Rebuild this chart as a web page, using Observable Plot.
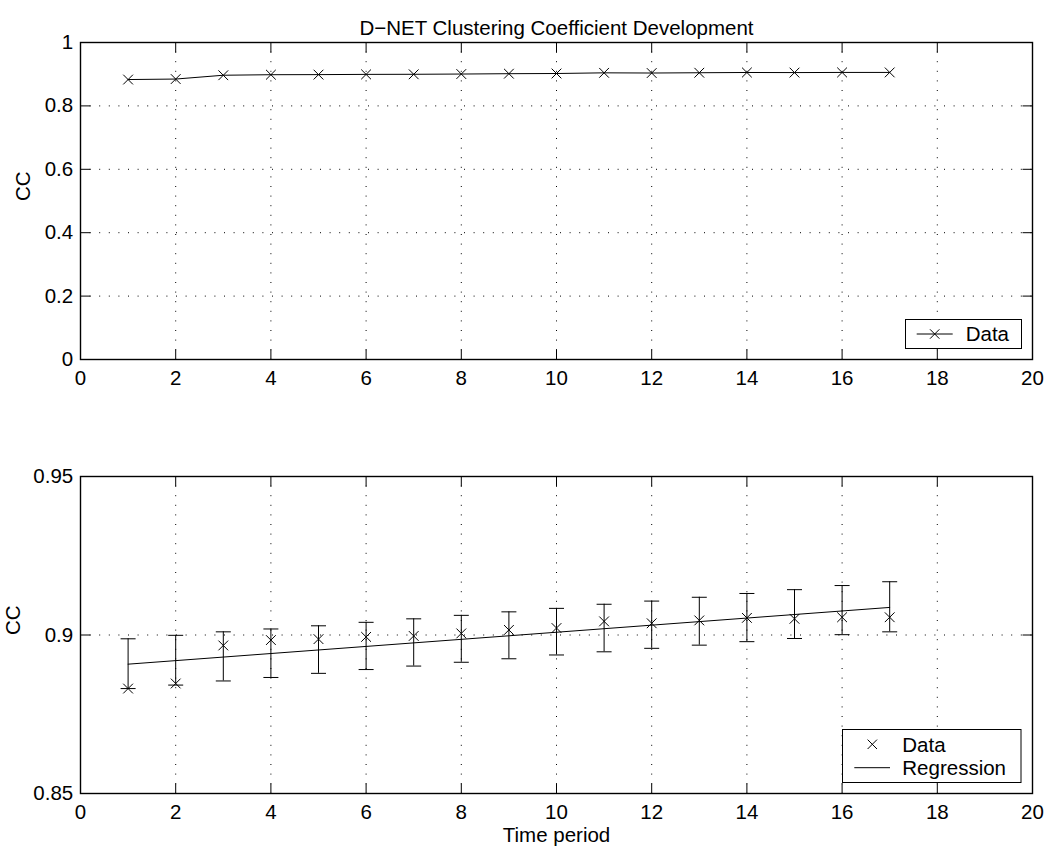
<!DOCTYPE html>
<html><head><meta charset="utf-8">
<script src="https://cdn.jsdelivr.net/npm/d3@7"></script>
<script src="https://cdn.jsdelivr.net/npm/@observablehq/plot@0.6"></script>
<style>
body{margin:0;background:#fff;}
#wrap{position:relative;width:1053px;height:855px;overflow:hidden;}
#wrap > svg{position:absolute;left:0;max-width:none;}
</style></head><body><div id="wrap"></div>
<script>
// ---- data ----
const chartTitle = "D\u2212NET Clustering Coefficient Development";
const periods = [1,2,3,4,5,6,7,8,9,10,11,12,13,14,15,16,17];
const ccValues = [0.8831,0.8847,0.8967,0.8984,0.8987,0.8994,0.8997,0.9005,0.9016,0.9022,0.9043,0.9037,0.9046,0.9054,0.9051,0.9056,0.9056];
const errLow  = [0.8831,0.8842,0.8855,0.8866,0.8879,0.8891,0.8902,0.8914,0.8925,0.8937,0.8947,0.8958,0.8968,0.8979,0.8989,0.9001,0.9010];
const errHigh = [0.8988,0.8999,0.9010,0.9019,0.9029,0.9040,0.9051,0.9062,0.9073,0.9084,0.9097,0.9107,0.9119,0.9131,0.9143,0.9156,0.9168];
const regX = [1,17];
const regY = [0.8908,0.9087];
const xTicks = [0,2,4,6,8,10,12,14,16,18,20];
const yTicksTop = [0,0.2,0.4,0.6,0.8,1];
const yTicksBottom = [0.85,0.9,0.95];
const xLabel = "Time period";
const yLabel = "CC";

// ---- build ----
const FONT = '"Liberation Sans", Arial, Helvetica, sans-serif';
const FS = 20.5;
const rows = periods.map((p,i)=>({x:p, y:ccValues[i], lo:errLow[i], hi:errHigh[i]}));
const reg = regX.map((x,i)=>({x, y:regY[i]}));

const tickSym = {draw(ctx){ctx.moveTo(0,0);ctx.lineTo(0,-10);}};
const capSym = {draw(ctx){ctx.moveTo(-7.5,0);ctx.lineTo(7.5,0);}};
const K = {stroke:"black", fill:"none", strokeWidth:1, r:1, symbol:tickSym};

function inner(arr, dom){ return arr.filter(v => v > dom[0] && v < dom[1]); }

function frameMarks(yTicks, yDom){
  const xi = inner(xTicks, [0,20]);
  const yi = inner(yTicks, yDom);
  return [
    Plot.ruleX(xi, {x:d=>d, stroke:"black", strokeWidth:1, strokeDasharray:"1,8.6"}),
    Plot.ruleY(yi, {y:d=>d, stroke:"black", strokeWidth:1, strokeDasharray:"1,8.6"}),
    Plot.dotX(xi, {x:d=>d, frameAnchor:"bottom", ...K}),
    Plot.dotX(xi, {x:d=>d, frameAnchor:"top", rotate:180, ...K}),
    Plot.dotY(yi, {y:d=>d, frameAnchor:"left", rotate:90, ...K}),
    Plot.dotY(yi, {y:d=>d, frameAnchor:"right", rotate:-90, ...K}),
    Plot.axisX({ticks:xTicks, tickSize:0, tickPadding:11, tickFormat:d=>String(d), label:null, fontSize:FS}),
    Plot.axisY({ticks:yTicks, tickSize:0, tickPadding:7.3, tickFormat:d=>String(d), label:null, fontSize:FS})
  ];
}

const common = {width:1053, marginLeft:80, marginRight:21,
  style:{fontFamily:FONT, fontSize:FS+"px", background:"transparent", overflow:"visible"}};

const topChart = Plot.plot({
  ...common, height:430, marginTop:42, marginBottom:71,
  x:{domain:[0,20]}, y:{domain:[0,1]},
  marks:[
    ...frameMarks(yTicksTop,[0,1]),
    Plot.line(rows, {x:"x", y:"y", stroke:"black", strokeWidth:1}),
    Plot.dot(rows, {x:"x", y:"y", symbol:"times", r:4.5, stroke:"black", strokeWidth:1}),
    Plot.frame({stroke:"black", strokeWidth:1.4}),
    Plot.text([yLabel], {text:d=>d, frameAnchor:"left", dx:-57.5, rotate:-90, fontSize:FS}),
    Plot.text([chartTitle], {text:d=>d, frameAnchor:"top", dy:-21.8, fontSize:FS})
  ]
});
topChart.style.top = "0px";

const bottomChart = Plot.plot({
  ...common, height:425, marginTop:46, marginBottom:62,
  x:{domain:[0,20]}, y:{domain:[0.85,0.95]},
  marks:[
    ...frameMarks(yTicksBottom,[0.85,0.95]),
    Plot.ruleX(rows, {x:"x", y1:"lo", y2:"hi", stroke:"black", strokeWidth:1}),
    Plot.dot(rows, {x:"x", y:"lo", symbol:capSym, r:1, stroke:"black", fill:"none", strokeWidth:1}),
    Plot.dot(rows, {x:"x", y:"hi", symbol:capSym, r:1, stroke:"black", fill:"none", strokeWidth:1}),
    Plot.line(reg, {x:"x", y:"y", stroke:"black", strokeWidth:1}),
    Plot.dot(rows, {x:"x", y:"y", symbol:"times", r:4.5, stroke:"black", strokeWidth:1}),
    Plot.frame({stroke:"black", strokeWidth:1.4}),
    Plot.text([yLabel], {text:d=>d, frameAnchor:"left", dx:-67, rotate:-90, fontSize:FS}),
    Plot.text([xLabel], {text:d=>d, frameAnchor:"bottom", dy:48, fontSize:FS})
  ]
});
bottomChart.style.top = "430px";

const wrap = document.getElementById("wrap");
wrap.appendChild(topChart);
wrap.appendChild(bottomChart);

// ---- legends (overlay) ----
const ov = d3.select(wrap).append("svg")
  .attr("width",1053).attr("height",855)
  .style("top","0px").style("pointer-events","none")
  .style("font-family",FONT).style("font-size",FS+"px");
function times(g, cx, cy, h){
  g.append("path").attr("d",`M${cx-h},${cy-h}L${cx+h},${cy+h}M${cx-h},${cy+h}L${cx+h},${cy-h}`)
   .attr("stroke","black").attr("fill","none");
}
// top legend
ov.append("rect").attr("x",905.5).attr("y",319.5).attr("width",116).attr("height",29)
  .attr("fill","white").attr("stroke","black");
ov.append("line").attr("x1",916.7).attr("x2",952.7).attr("y1",334).attr("y2",334).attr("stroke","black");
times(ov, 934.7, 334, 4.7);
ov.append("text").attr("x",965.7).attr("y",341).text("Data");
// bottom legend
ov.append("rect").attr("x",842.5).attr("y",729.5).attr("width",178.5).attr("height",53)
  .attr("fill","white").attr("stroke","black");
times(ov, 872.3, 744.3, 4.7);
ov.append("text").attr("x",902.3).attr("y",751.5).text("Data");
ov.append("line").attr("x1",854.3).attr("x2",890).attr("y1",767.7).attr("y2",767.7).attr("stroke","black");
ov.append("text").attr("x",902.3).attr("y",774.5).text("Regression");
</script></body></html>
